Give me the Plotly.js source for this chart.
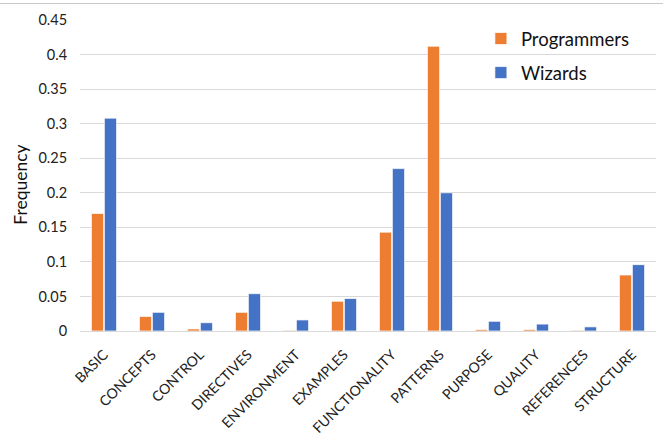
<!DOCTYPE html>
<html>
<head>
<meta charset="utf-8">
<script src="https://cdn.plot.ly/plotly-3.0.1.min.js"></script>
<style>
html,body{margin:0;padding:0;background:#fff;}
#topline{position:absolute;left:0;top:3px;width:663px;height:0;border-top:1px solid #c8c8c8;}
#chart{width:663px;height:437px;}
</style>
</head>
<body>
<div id="chart"></div>
<div id="topline"></div>
<script>
var categories = ["BASIC","CONCEPTS","CONTROL","DIRECTIVES","ENVIRONMENT","EXAMPLES","FUNCTIONALITY","PATTERNS","PURPOSE","QUALITY","REFERENCES","STRUCTURE"];
var programmers = [0.170,0.021,0.003,0.027,0.001,0.043,0.143,0.412,0.002,0.002,0.001,0.081];
var wizards = [0.308,0.027,0.012,0.054,0.016,0.047,0.235,0.200,0.014,0.010,0.006,0.096];
var yTickVals = [0,0.05,0.1,0.15,0.2,0.25,0.3,0.35,0.4,0.45];
var yTickText = ["0","0.05","0.1","0.15","0.2","0.25","0.3","0.35","0.4","0.45"];
var yTitle = "Frequency";

var FONT = "Lato, 'Open Sans', sans-serif";
var traces = [
  {type:"bar", name:"Programmers", x:categories, y:programmers, legendgroup:"p",
   marker:{color:"#ED7D31", line:{color:"rgba(255,255,255,0.7)", width:1}}},
  {type:"bar", name:"Wizards", x:categories, y:wizards, legendgroup:"w",
   marker:{color:"#4472C4", line:{color:"rgba(255,255,255,0.7)", width:1}}}
];
var layout = {
  width:663, height:437,
  margin:{l:80, r:7, t:19.5, b:106},
  paper_bgcolor:"#fff", plot_bgcolor:"#fff",
  font:{family:FONT, color:"#222", size:13},
  barmode:"group", bargap:0.46, bargroupgap:0.06,
  showlegend:true,
  legend:{x:0.696, y:1.0, xanchor:"left", yanchor:"top", font:{size:18.5, color:"#111"},
          bgcolor:"rgba(255,255,255,0)", tracegroupgap:7, itemwidth:30},
  xaxis:{tickangle:-45, showgrid:false, showline:false, zeroline:false,
         ticks:"outside", ticklen:9, tickcolor:"rgba(0,0,0,0)",
         tickfont:{size:14.1, color:"#222"}},
  yaxis:{range:[0,0.45], tickvals:yTickVals, ticktext:yTickText,
         showgrid:true, gridcolor:"#d9d9d9", gridwidth:1, zeroline:true, zerolinecolor:"#d9d9d9", zerolinewidth:1,
         showline:false, ticks:"outside", ticklen:9, tickcolor:"rgba(0,0,0,0)",
         tickfont:{size:14.5, color:"#222"}},
  annotations:[{text:yTitle, xref:"paper", yref:"paper", x:(21-80)/576, y:(331-184.5)/311.5,
                xanchor:"center", yanchor:"middle", textangle:-90, showarrow:false,
                font:{size:17.5, color:"#111"}}]
};
Plotly.newPlot("chart", traces, layout, {displayModeBar:false, staticPlot:true});
</script>
</body>
</html>
